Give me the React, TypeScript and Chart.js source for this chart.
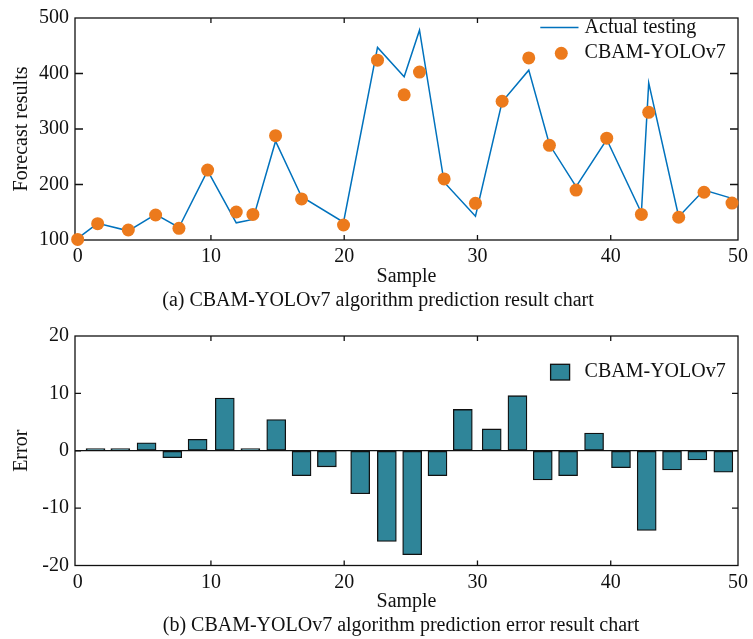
import React, { useEffect, useRef } from 'react';
import { Chart, registerables } from 'chart.js';

Chart.register(...registerables);

const FONT = "'Liberation Serif', 'Times New Roman', Times, serif";

// ---------- Data (a): prediction result ----------
const SAMPLE_X = [0, 1.5, 3.8, 5.85, 7.6, 9.75, 11.9, 13.15, 14.85, 16.8, 19.95, 22.5, 24.5, 25.65, 27.5, 29.85, 31.85, 33.85, 35.4, 37.4, 39.7, 42.3, 42.85, 45.1, 47.0, 49.1];
const ACTUAL = [103, 130, 116.5, 146, 122.5, 225, 131, 137, 278, 178, 132, 447, 394, 478, 204, 143, 349, 406, 272, 196, 281, 149, 383, 142, 190, 175];
const PREDICTED = [101, 129.5, 118, 145, 121, 226, 150.5, 146, 288, 174, 127, 424, 361.5, 402.5, 210, 166, 350, 428, 270.5, 190, 283.5, 146, 330, 141, 186, 166.5];

// ---------- Data (b): prediction error ----------
const ERROR_X = [1.34, 3.2, 5.17, 7.1, 9.0, 11.04, 12.96, 14.9, 16.8, 18.7, 21.2, 23.2, 25.1, 27.0, 28.9, 31.07, 33.0, 34.9, 36.8, 38.75, 40.77, 42.7, 44.6, 46.5, 48.45];
const ERRORS = [0.4, 0.4, 1.4, -1.2, 2.0, 9.2, 0.4, 5.45, -4.35, -2.8, -7.5, -15.8, -18.1, -4.35, 7.2, 3.8, 9.6, -5.1, -4.35, 3.1, -2.95, -13.9, -3.35, -1.6, -3.75];

// ---------- Axes / labels ----------
const X_MIN = -0.2;
const X_MAX = 49.55;
const X_TICKS = [0, 10, 20, 30, 40, 50];
const Y_MIN_A = 100;
const Y_MAX_A = 500;
const Y_STEP_A = 100;
const Y_MIN_B = -20;
const Y_MAX_B = 20;
const Y_STEP_B = 10;

const LABEL_ACTUAL = 'Actual testing';
const LABEL_MODEL = 'CBAM-YOLOv7';
const X_TITLE = 'Sample';
const Y_TITLE_A = 'Forecast results';
const Y_TITLE_B = 'Error';
const CAPTION_A = '(a) CBAM-YOLOv7 algorithm prediction result chart';
const CAPTION_B = '(b) CBAM-YOLOv7 algorithm prediction error result chart';

const BLUE = '#0072BD';
const ORANGE = '#EC7A1C';
const TEAL = '#2F8599';
const INK = '#111111';

const W = 753;
const H_A = 318;
const H_B = 321;

function frameTicksPlugin(xLen: number, yLen: number) {
  return {
    id: 'frameTicks',
    beforeDatasetsDraw(chart: any) {
      const { ctx, chartArea } = chart;
      const { left, right, top, bottom } = chartArea;
      const xs = chart.scales.x;
      const ys = chart.scales.y;
      ctx.save();
      ctx.strokeStyle = INK;
      ctx.lineWidth = 1.3;
      ctx.beginPath();
      for (const t of xs.ticks) {
        const px = xs.getPixelForValue(t.value);
        if (px - left < 4 || right - px < 4) continue;
        ctx.moveTo(px, bottom);
        ctx.lineTo(px, bottom - xLen);
        ctx.moveTo(px, top);
        ctx.lineTo(px, top + xLen);
      }
      for (const t of ys.ticks) {
        const py = ys.getPixelForValue(t.value);
        if (py - top < 4 || bottom - py < 4) continue;
        ctx.moveTo(left, py);
        ctx.lineTo(left + yLen, py);
        ctx.moveTo(right, py);
        ctx.lineTo(right - yLen, py);
      }
      ctx.stroke();
      ctx.strokeRect(left, top, right - left, bottom - top);
      ctx.restore();
    },
  };
}

function captionPlugin(text: string, cx: number, cy: number) {
  return {
    id: 'caption',
    afterDraw(chart: any) {
      const ctx = chart.ctx;
      ctx.save();
      ctx.fillStyle = INK;
      ctx.font = `20px ${FONT}`;
      ctx.textAlign = 'center';
      ctx.textBaseline = 'middle';
      ctx.fillText(text, cx, cy);
      ctx.restore();
    },
  };
}

const legendA = {
  id: 'legendA',
  afterDraw(chart: any) {
    const ctx = chart.ctx;
    const ds = chart.data.datasets;
    const right = chart.chartArea.right;
    ctx.save();
    ctx.font = `20px ${FONT}`;
    ctx.textAlign = 'left';
    ctx.textBaseline = 'middle';
    ctx.fillStyle = INK;
    const tx = right - 153.4;
    ctx.strokeStyle = BLUE;
    ctx.lineWidth = 1.5;
    ctx.beginPath();
    ctx.moveTo(right - 197.7, 27.5);
    ctx.lineTo(right - 159.5, 27.5);
    ctx.stroke();
    ctx.fillText(ds[0].label, tx, 28);
    ctx.fillStyle = ORANGE;
    ctx.beginPath();
    ctx.arc(right - 176.7, 53.3, 6.5, 0, Math.PI * 2);
    ctx.fill();
    ctx.fillStyle = INK;
    ctx.fillText(ds[1].label, tx, 53);
    ctx.restore();
  },
};

const legendB = {
  id: 'legendB',
  afterDraw(chart: any) {
    const ctx = chart.ctx;
    const ds = chart.data.datasets;
    const right = chart.chartArea.right;
    ctx.save();
    ctx.fillStyle = TEAL;
    ctx.strokeStyle = INK;
    ctx.lineWidth = 1.3;
    ctx.fillRect(right - 187.4, 46.3, 19, 15.7);
    ctx.strokeRect(right - 187.4, 46.3, 19, 15.7);
    ctx.font = `20px ${FONT}`;
    ctx.textAlign = 'left';
    ctx.textBaseline = 'middle';
    ctx.fillStyle = INK;
    ctx.fillText(ds[0].label, right - 153.4, 54);
    ctx.restore();
  },
};

function xScale() {
  return {
    type: 'linear',
    min: X_MIN,
    max: X_MAX,
    offset: false,
    grid: { display: false, drawTicks: false, offset: false },
    border: { display: false },
    afterBuildTicks: (scale: any) => {
      scale.ticks = X_TICKS.map((v) => ({ value: Math.min(v, X_MAX) }));
    },
    afterFit: (scale: any) => {
      scale.height = 48.5;
    },
    ticks: {
      padding: 5,
      maxRotation: 0,
      autoSkip: false,
      color: INK,
      font: { size: 20, family: FONT },
      callback: (_v: any, i: number) => String(X_TICKS[i]),
    },
    title: {
      display: true,
      text: X_TITLE,
      color: INK,
      font: { size: 20, family: FONT },
      padding: { top: 0, bottom: 0 },
    },
  };
}

function yScale(min: number, max: number, step: number, title: string, zeroLine: boolean) {
  return {
    type: 'linear',
    min,
    max,
    grid: zeroLine
      ? {
          display: true,
          drawTicks: false,
          lineWidth: 1.3,
          color: (c: any) => (c.tick && c.tick.value === 0 ? INK : 'rgba(0,0,0,0)'),
        }
      : { display: false, drawTicks: false },
    border: { display: false },
    afterFit: (scale: any) => {
      scale.width = 75;
    },
    ticks: {
      stepSize: step,
      padding: 6,
      color: INK,
      font: { size: 20, family: FONT },
    },
    title: {
      display: true,
      text: title,
      color: INK,
      font: { size: 20, family: FONT },
      padding: { top: 10, bottom: 0 },
    },
  };
}

export default function App() {
  const refA = useRef<HTMLCanvasElement>(null);
  const refB = useRef<HTMLCanvasElement>(null);

  useEffect(() => {
    const chartA = new Chart(refA.current as HTMLCanvasElement, {
      type: 'scatter',
      data: {
        datasets: [
          {
            label: LABEL_ACTUAL,
            data: SAMPLE_X.map((x, i) => ({ x, y: ACTUAL[i] })),
            showLine: true,
            borderColor: BLUE,
            backgroundColor: BLUE,
            borderWidth: 1.5,
            pointRadius: 0,
            tension: 0,
            clip: false,
            order: 1,
          } as any,
          {
            label: LABEL_MODEL,
            data: SAMPLE_X.map((x, i) => ({ x, y: PREDICTED[i] })),
            showLine: false,
            pointRadius: 6.5,
            pointBackgroundColor: ORANGE,
            pointBorderColor: ORANGE,
            pointBorderWidth: 0,
            clip: false,
            order: 0,
          } as any,
        ],
      },
      options: {
        responsive: false,
        maintainAspectRatio: false,
        animation: false,
        events: [],
        layout: { padding: { top: 14, right: 11.3, left: 0, bottom: 29.5 } },
        scales: {
          x: xScale() as any,
          y: yScale(Y_MIN_A, Y_MAX_A, Y_STEP_A, Y_TITLE_A, false) as any,
        },
        plugins: { legend: { display: false }, tooltip: { enabled: false } },
      },
      plugins: [frameTicksPlugin(5, 8), legendA, captionPlugin(CAPTION_A, 378, 300.5)],
    });

    const chartB = new Chart(refB.current as HTMLCanvasElement, {
      type: 'bar',
      data: {
        datasets: [
          {
            label: LABEL_MODEL,
            data: ERROR_X.map((x, i) => ({ x, y: ERRORS[i] })),
            backgroundColor: TEAL,
            borderColor: INK,
            borderWidth: 1.3,
            borderSkipped: false,
            barThickness: 19,
          } as any,
        ],
      },
      options: {
        responsive: false,
        maintainAspectRatio: false,
        animation: false,
        events: [],
        layout: { padding: { top: 17.7, right: 11.3, left: 0, bottom: 25 } },
        scales: {
          x: xScale() as any,
          y: yScale(Y_MIN_B, Y_MAX_B, Y_STEP_B, Y_TITLE_B, true) as any,
        },
        plugins: { legend: { display: false }, tooltip: { enabled: false } },
      },
      plugins: [frameTicksPlugin(5, 6), legendB, captionPlugin(CAPTION_B, 401, 308)],
    });

    return () => {
      chartA.destroy();
      chartB.destroy();
    };
  }, []);

  return (
    <div style={{ position: 'absolute', left: 0, top: 0, width: W, height: H_A + H_B, background: '#fff' }}>
      <canvas ref={refA} width={W} height={H_A} style={{ position: 'absolute', left: 0, top: 0 }} />
      <canvas ref={refB} width={W} height={H_B} style={{ position: 'absolute', left: 0, top: H_A }} />
    </div>
  );
}
